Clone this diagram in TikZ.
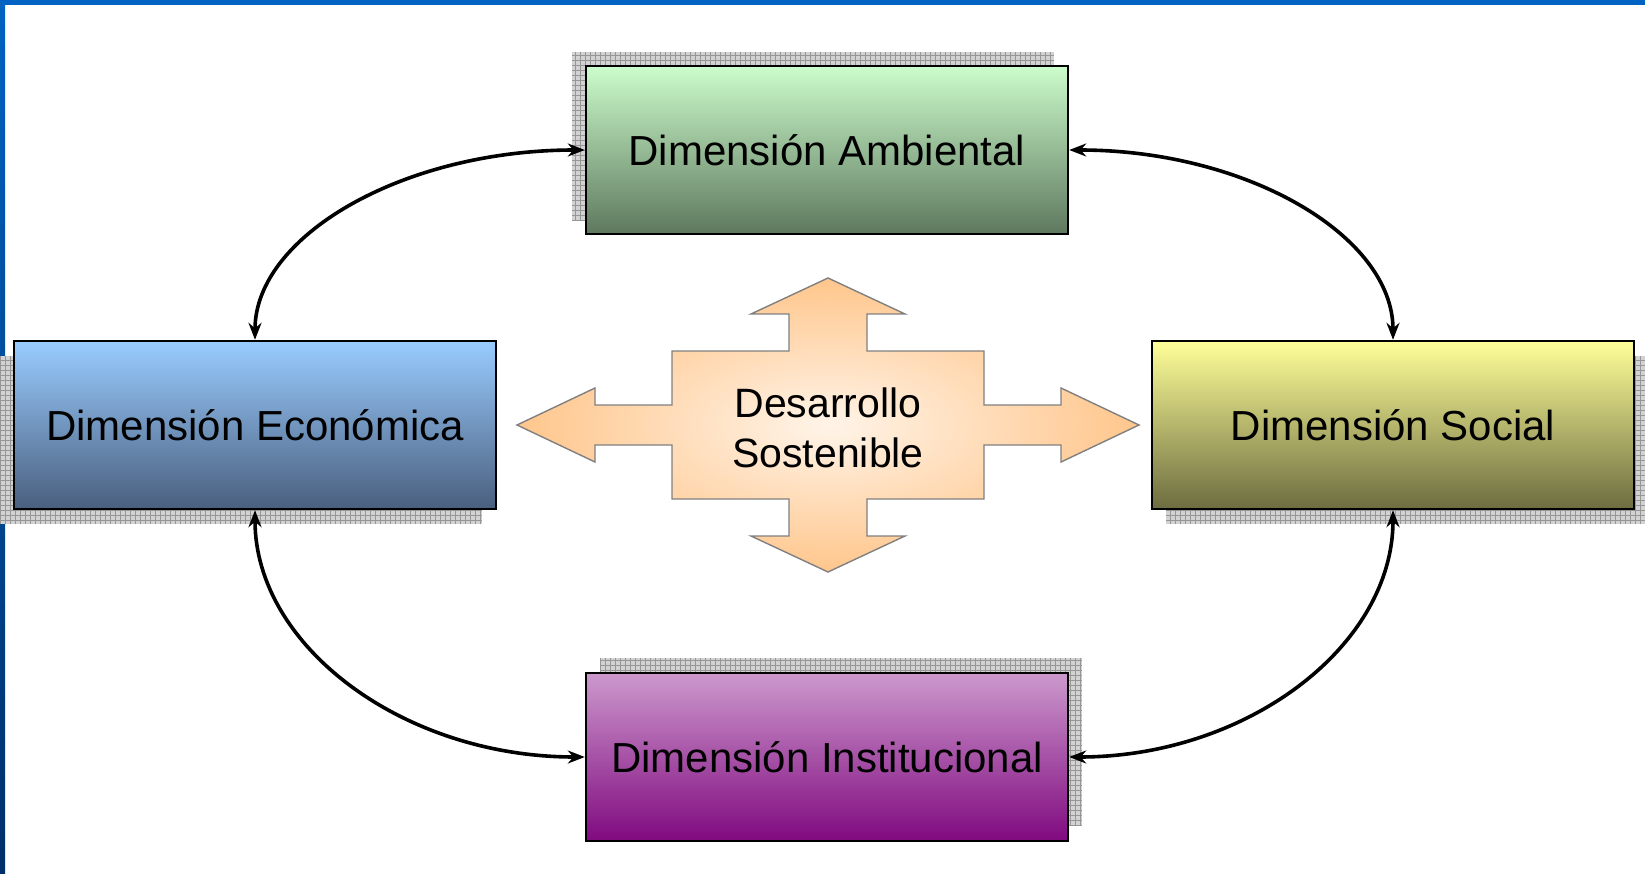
\documentclass[tikz,border=0pt]{standalone}
\usepackage{fontspec}
\setmainfont{Liberation Sans}
\usetikzlibrary{arrows.meta}
\definecolor{topblue}{HTML}{0062C2}
\definecolor{sidetop}{HTML}{0062C2}
\definecolor{sidebot}{HTML}{00306A}
\definecolor{ambT}{HTML}{CCFCCC}
\definecolor{ambB}{HTML}{5E785E}
\definecolor{ecoT}{HTML}{99CCFF}
\definecolor{ecoB}{HTML}{4A5F7E}
\definecolor{socT}{HTML}{FFFF99}
\definecolor{socB}{HTML}{6C6C40}
\definecolor{insT}{HTML}{CC99CC}
\definecolor{insB}{HTML}{800A80}
\definecolor{crossIn}{HTML}{FFF4E8}
\definecolor{crossOut}{HTML}{FFC68C}
\definecolor{shfill}{HTML}{D2D2D2}
\definecolor{shline}{HTML}{969696}
\newcommand\gridshadow[2]{%
  \fill[shfill] (#1-241,#2-84) rectangle (#1+241,#2+84);
  \draw[shline, line width=0.9pt, step=5pt] (#1-241,#2-84) grid (#1+241,#2+84);}
\begin{document}
\begin{tikzpicture}[x=1pt,y=-1pt,
  dimbox/.style={draw=black, line width=2.4pt, rectangle, minimum width=482pt,
    minimum height=168pt, inner sep=0pt, font=\fontsize{42}{50}\selectfont, text=black},
  conn/.style={line width=3.6pt, black,
    {Stealth[length=17pt,width=13pt]}-{Stealth[length=17pt,width=13pt]}},
  crossshape/.style={draw=black!50, line width=1.4pt, inner color=crossIn, outer color=crossOut}
]
\useasboundingbox (0,0) rectangle (1645,874);
\fill[white] (0,0) rectangle (1645,874);
\fill[topblue] (0,0) rectangle (1645,5);
\shade[top color=sidetop, bottom color=sidebot] (0,0) rectangle (5,874);

% shadows
\gridshadow{813}{136}
\gridshadow{241}{440}
\gridshadow{1407}{440}
\gridshadow{841}{742}

% boxes
\node[dimbox, top color=ambT, bottom color=ambB] (amb) at (827,150) {Dimensión Ambiental};
\node[dimbox, top color=ecoT, bottom color=ecoB] (eco) at (255,425) {Dimensión Económica};
\node[dimbox, top color=socT, bottom color=socB] (soc) at (1393,425) {Dimensión Social};
\node[dimbox, top color=insT, bottom color=insB] (ins) at (827,757) {Dimensión Institucional};

% central cross arrow
\path[crossshape] (828,278) -- (905,314) -- (867,314) -- (867,351) -- (984,351) -- (984,405)
  -- (1061,405) -- (1061,388) -- (1139,425) -- (1061,462) -- (1061,445) -- (984,445)
  -- (984,499) -- (867,499) -- (867,536) -- (905,536) -- (828,572) -- (751,536)
  -- (789,536) -- (789,499) -- (672,499) -- (672,445) -- (595,445) -- (595,462)
  -- (517,425) -- (595,388) -- (595,405) -- (672,405) -- (672,351) -- (789,351)
  -- (789,314) -- (751,314) -- cycle;
\node[align=center, font=\fontsize{41}{50}\selectfont, text=black] (ds) at (828,428)
  {Desarrollo\\Sostenible};

% connectors
\draw[conn] (amb.west) .. controls (403,150) and (255,236) .. (eco.north);
\draw[conn] (amb.east) .. controls (1247,150) and (1393,236) .. (soc.north);
\draw[conn] (eco.south) .. controls (255,646) and (403,757) .. (ins.west);
\draw[conn] (soc.south) .. controls (1393,646) and (1247,757) .. (ins.east);
\end{tikzpicture}
\end{document}
